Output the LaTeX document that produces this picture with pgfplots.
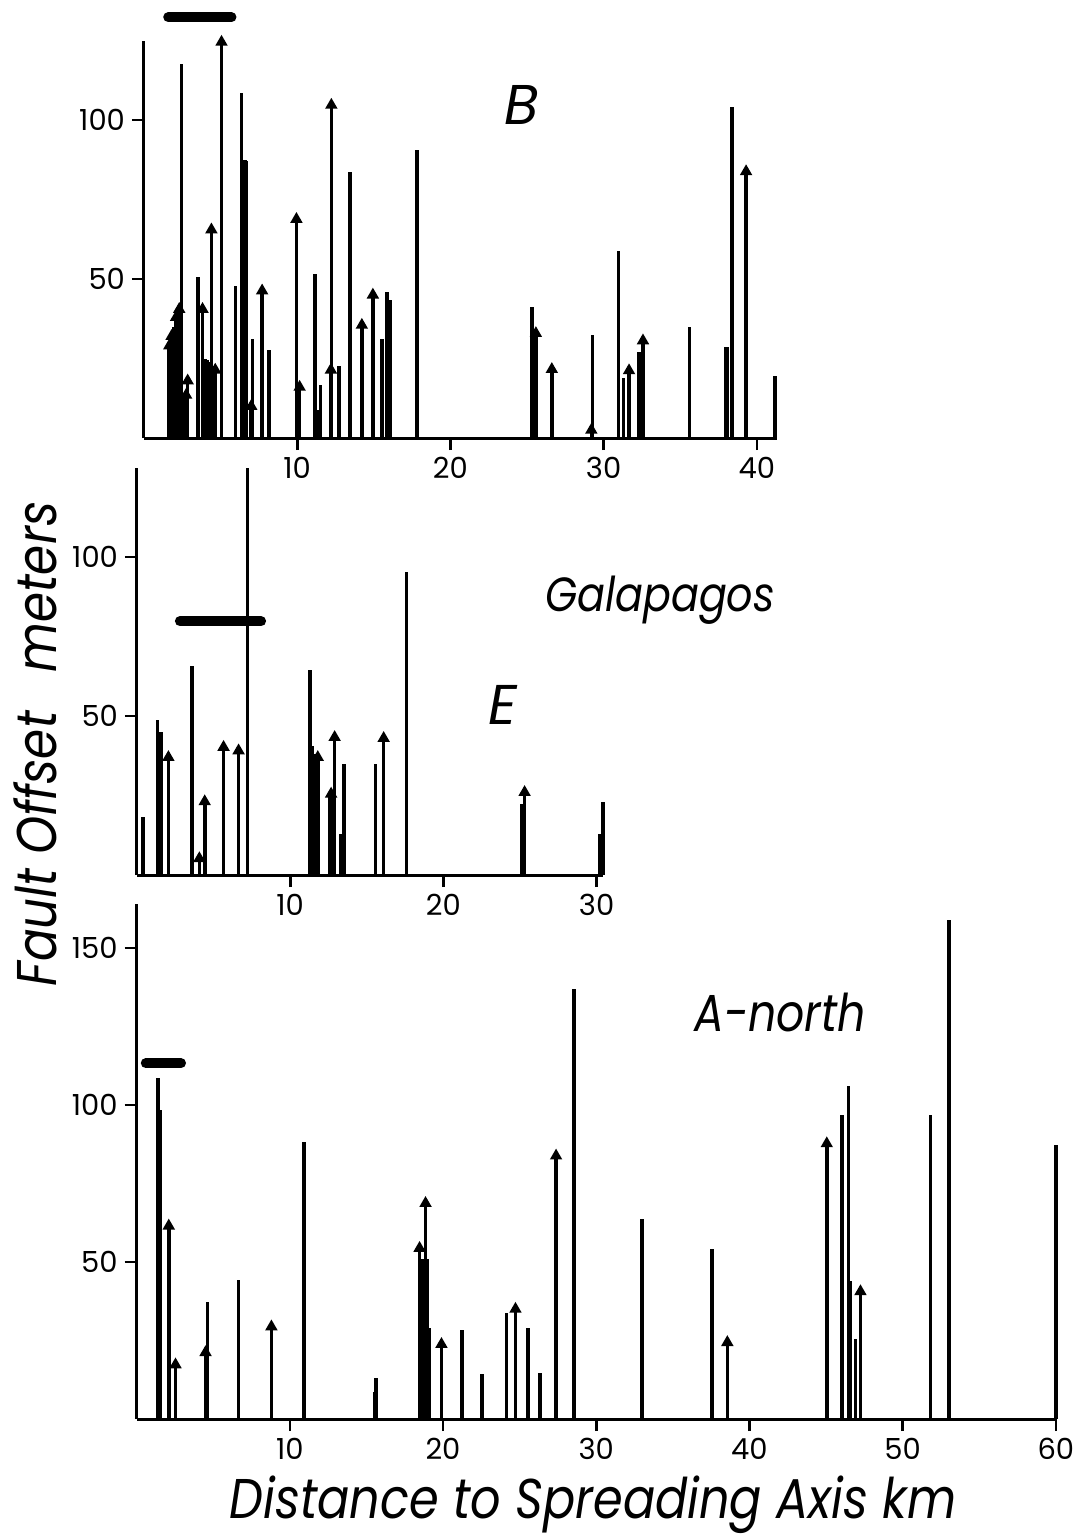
\documentclass[border=0pt]{standalone}
\usepackage{fontspec}
\setmainfont{Poppins}
\usepackage{pgfplots}
\pgfplotsset{compat=1.18}
\pgfplotsset{
  panel/.style={
    anchor=south west, xmin=0, ymin=0, x=7.66pt,
    axis x line*=bottom, axis y line*=left,
    axis line style={line width=1.5pt, black},
    tick align=outside, major tick length=6pt,
    tick style={line width=1.3pt, black},
    clip=false,
    /pgf/number format/assume math mode=true,
    tick label style={font=\fontsize{14.5}{14.5}\selectfont},
  },
  bar/.style={ycomb, line width=1.8pt, black, mark=none},
  mbar/.style={ycomb, line width=1.8pt, black, mark=triangle*, mark size=1.8pt, mark options={solid, fill=black}},
  scalebar/.style={line width=5pt, line cap=round, black, mark=none},
}
\begin{document}
\begin{tikzpicture}
\useasboundingbox (0pt,0pt) rectangle (543.5pt,-768.5pt);
% ---------------- Panel B ----------------
\begin{axis}[panel, at={(72pt,-219pt)}, y=1.59pt, xmax=41.3, ymax=125,
  xtick={10,20,30,40}, ytick={50,100}]
\addplot[bar] coordinates {
(1.75,33) (1.95,35) (2.2,36) (2.45,117.6) (2.6,13.5) (3.54,50.7) (4.0,25) (4.15,24.5) (4.3,24)
(5.97,47.8) (6.36,108.4) (6.58,87.4) (6.65,87) (7.08,31) (8.14,27.7) (8.2,12.5) (10.05,16)
(11.18,51.5) (11.3,8.8) (11.53,16.7) (12.72,22.7) (13.46,83.8) (15.53,31) (15.85,46) (16.07,43.4)
(17.8,90.6) (25.32,41.3) (29.27,32.4) (30.97,58.9) (31.3,18.8) (32.3,27.1) (35.6,35)
(38.0,28.7) (38.07,28.7) (38.4,104.2) (41.2,19.5)};
\addplot[mbar] coordinates {
(1.65,29) (1.8,32) (2.1,38) (2.3,40.5) (2.75,13.5) (2.85,18) (3.82,40.5) (4.4,65.5) (4.65,21.4)
(5.06,124.5) (7.0,10) (7.71,46.3) (9.95,68.8) (10.16,16) (12.2,21.4) (12.23,104.7) (14.22,35.5)
(14.94,45) (25.58,32.9) (26.62,21.6) (29.2,2.5) (31.66,21.2) (32.57,30.6) (39.3,83.8)};
\addplot[scalebar] coordinates {(1.58,132.3) (5.71,132.3)};
\end{axis}
% ---------------- Panel E ----------------
\begin{axis}[panel, at={(68.5pt,-437.5pt)}, y=1.59pt, xmax=30.4, ymax=128,
  xtick={10,20,30}, ytick={50,100}]
\addplot[bar] coordinates {
(0.4,18.2) (1.35,48.6) (1.58,45.1) (3.6,65.6) (7.2,128) (11.28,64.5) (11.44,40.7) (11.58,38.1)
(12.6,25.5) (13.3,12.9) (13.53,35) (15.58,35) (17.6,95.3) (25.1,22.4) (30.2,12.9) (30.4,23.1)};
\addplot[mbar] coordinates {
(2.05,37) (4.07,5.2) (4.42,23.1) (5.65,40.2) (6.63,39.1) (11.8,37) (12.67,25.5) (12.9,43.3)
(16.1,43) (25.3,26)};
\addplot[scalebar] coordinates {(2.8,79.8) (8.1,79.8)};
\end{axis}
% ---------------- Panel A-north ----------------
\begin{axis}[panel, at={(68.3pt,-709.5pt)}, y=1.57pt, xmax=60, ymax=164,
  xtick={10,20,30,40,50,60}, ytick={50,100,150}]
\addplot[bar] coordinates {
(1.4,108.7) (1.55,98.5) (4.64,37.4) (6.65,44.2) (10.92,88.3) (15.55,8.5) (15.62,13.2)
(18.6,51) (18.7,51) (18.8,51) (19.0,51) (19.12,28.9) (21.25,28.5) (22.54,14.3) (24.15,33.9)
(25.55,29.1) (26.34,14.6) (28.56,137) (32.97,63.6) (37.57,54.1) (46.04,96.8) (46.48,105.9)
(46.6,44) (46.92,25.5) (51.82,96.8) (53.03,159) (60,87.2)};
\addplot[mbar] coordinates {
(2.1,61.5) (2.54,17.3) (4.5,21.2) (8.8,29.4) (18.47,54.4) (18.86,68.7) (19.9,23.8) (24.73,35)
(27.38,83.8) (38.56,24.4) (45.05,87.7) (47.25,40.6)};
\addplot[scalebar] coordinates {(0.6,113.3) (2.9,113.3)};
\end{axis}
% ---------------- Labels ----------------
\node[font=\fontsize{28}{28}\selectfont\itshape] at (261pt,-52.5pt) {B};
\node[font=\fontsize{24}{24}\selectfont\itshape] at (330pt,-300pt) {\scalebox{0.86}[1]{Galapagos}};
\node[font=\fontsize{28}{28}\selectfont\itshape] at (251.5pt,-352.5pt) {E};
\node[font=\fontsize{26}{26}\selectfont\itshape] at (390pt,-506pt) {\scalebox{0.85}[1]{A-north}};
\node[font=\fontsize{28}{28}\selectfont\itshape, rotate=90] at (17.5pt,-372pt) {\scalebox{0.865}[1]{Fault Offset\hspace{0.8em}meters}};
\node[font=\fontsize{28}{28}\selectfont\itshape] at (296.5pt,-752.5pt) {\scalebox{0.853}[1]{Distance to Spreading Axis km}};
\end{tikzpicture}
\end{document}
